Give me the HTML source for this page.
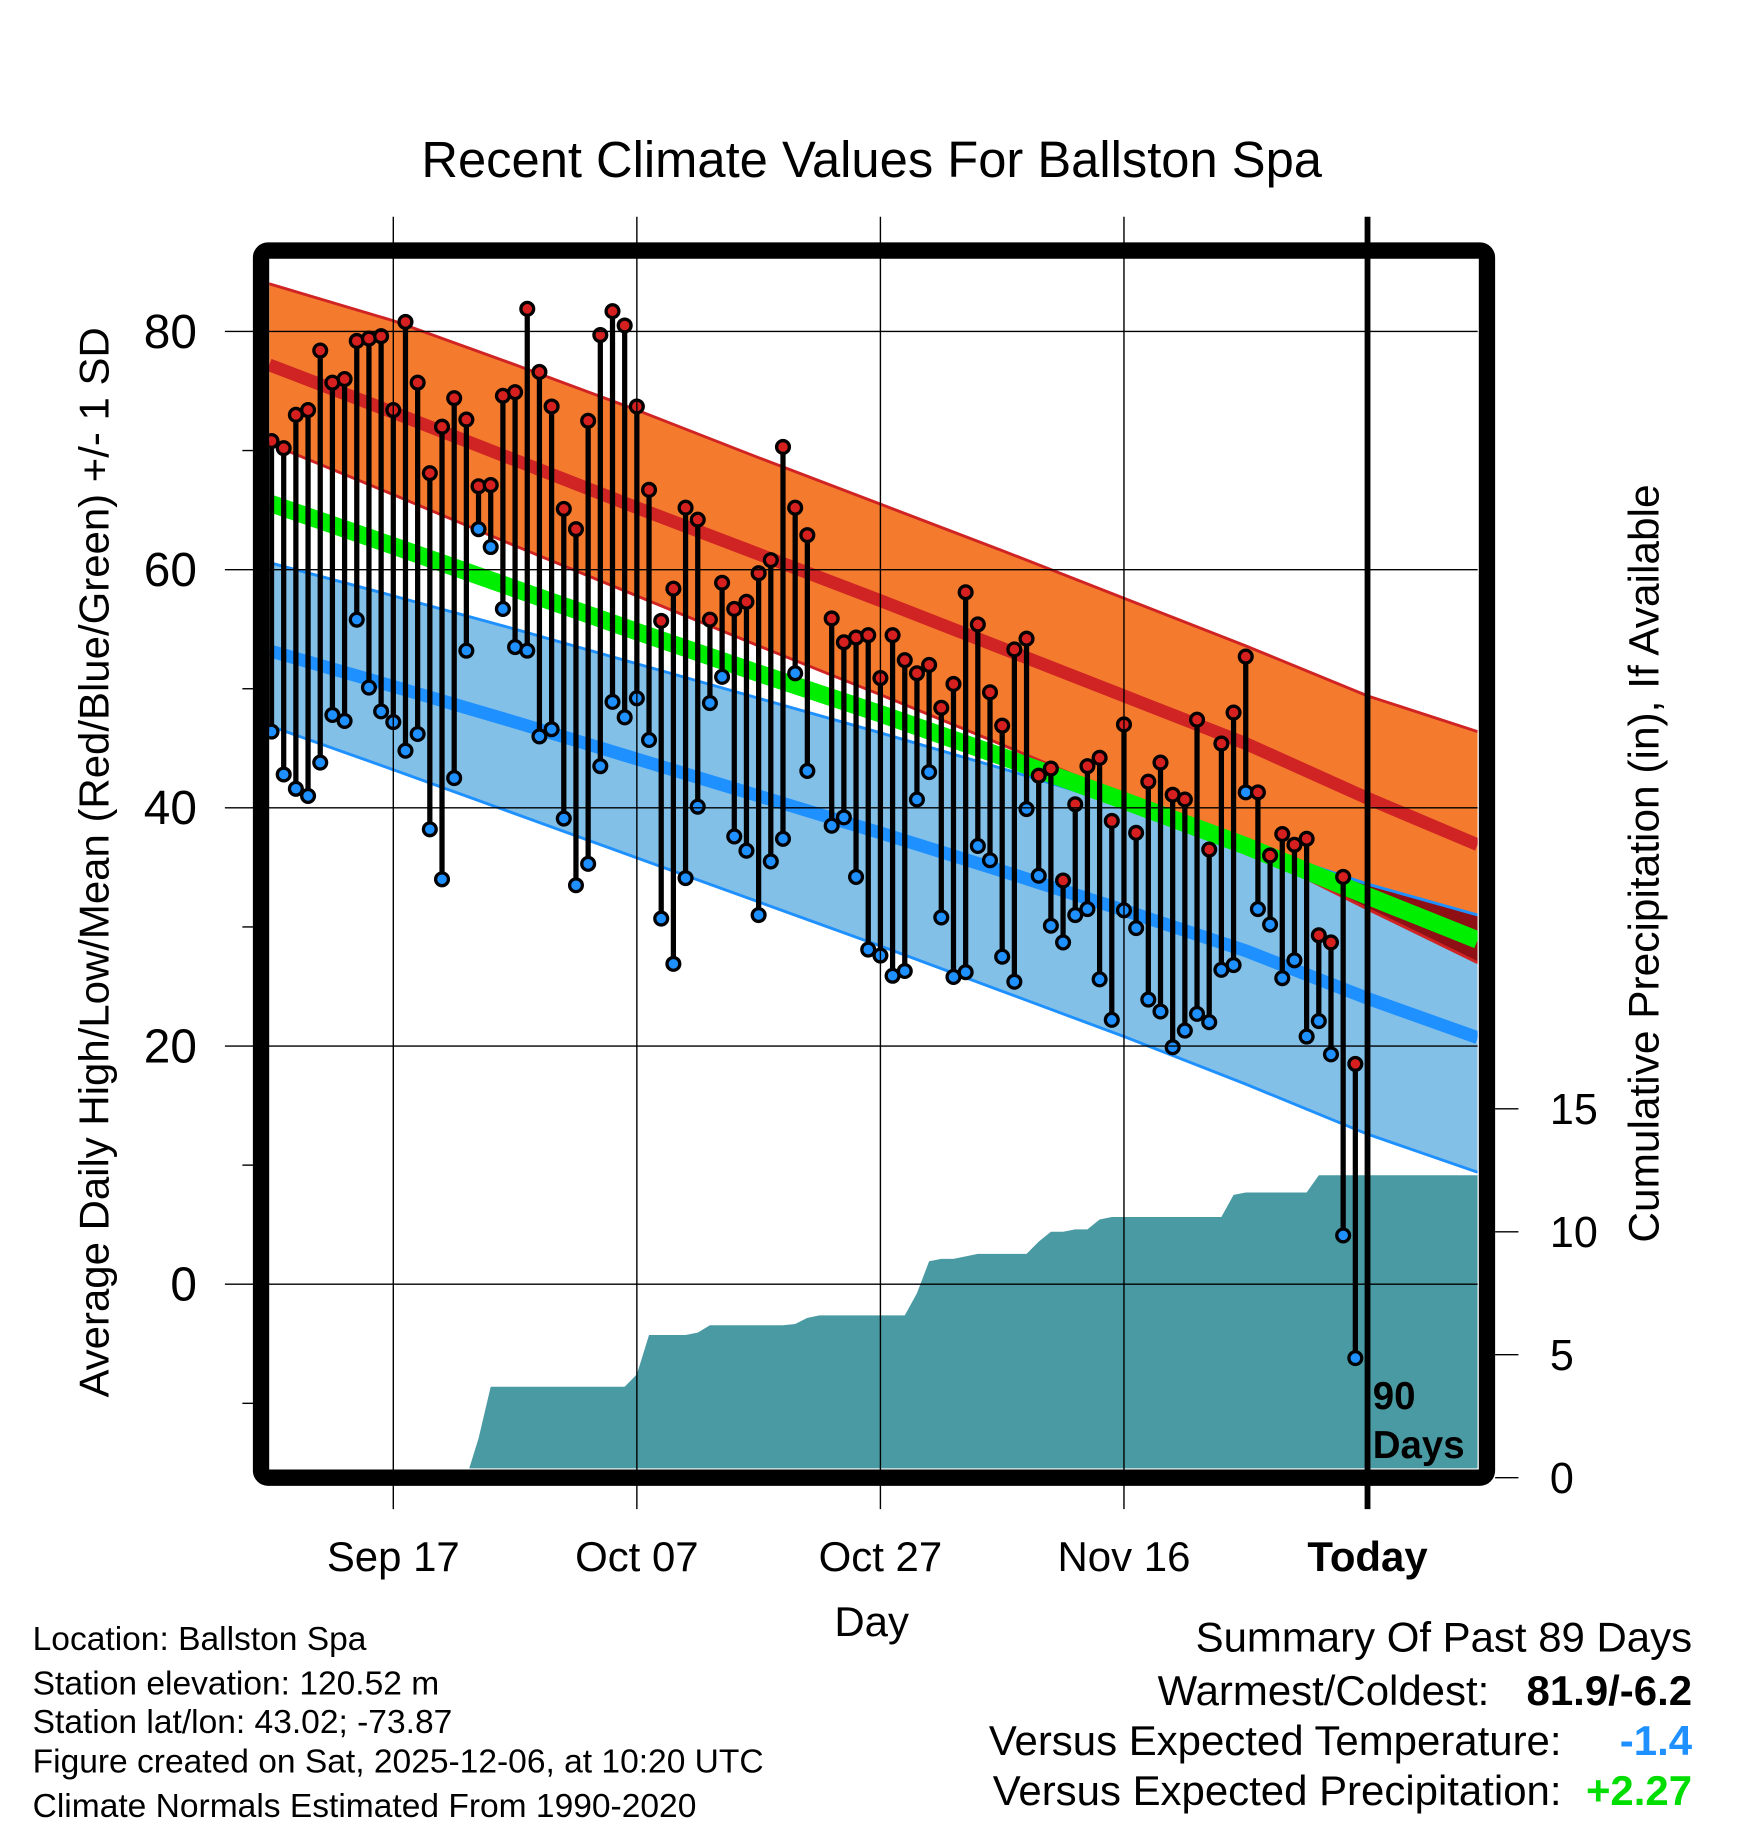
<!DOCTYPE html>
<html><head><meta charset="utf-8">
<style>
html,body{margin:0;padding:0;background:#fff;}
svg{display:block;}
text{font-family:"Liberation Sans",Arial,sans-serif;}
</style></head>
<body>
<svg id="chart" width="1748" height="1828" viewBox="0 0 1500 1568.6" xmlns="http://www.w3.org/2000/svg">
<defs>
<clipPath id="plotclip"><rect x="231" y="222" width="1037" height="1038"/></clipPath>
</defs>
<rect x="0" y="0" width="1500" height="1568.6" fill="#fff"/>
<text x="748" y="152" font-size="43.5" text-anchor="middle">Recent Climate Values For Ballston Spa</text>
<g id="plot" clip-path="url(#plotclip)"></g>
<g id="axes"></g>
<rect x="224" y="215" width="1052" height="1053" rx="6" fill="none" stroke="#000" stroke-width="14"/>
<text transform="translate(93,740) rotate(-90)" font-size="36" text-anchor="middle">Average Daily High/Low/Mean (Red/Blue/Green) +/- 1 SD</text>
<text transform="translate(1423,741) rotate(-90)" font-size="36.4" text-anchor="middle">Cumulative Precipitation (in), If Available</text>
<text x="748" y="1404" font-size="36" text-anchor="middle">Day</text>
<text x="1178" y="1209" font-size="33" font-weight="bold">90</text>
<text x="1178" y="1251" font-size="33" font-weight="bold">Days</text>
<g font-size="28.8">
<text x="28" y="1416">Location: Ballston Spa</text>
<text x="28" y="1454">Station elevation: 120.52 m</text>
<text x="28" y="1487">Station lat/lon: 43.02; -73.87</text>
<text x="28" y="1521">Figure created on Sat, 2025-12-06, at 10:20 UTC</text>
<text x="28" y="1559">Climate Normals Estimated From 1990-2020</text>
</g>
<g font-size="36">
<text x="1452" y="1417" text-anchor="end">Summary Of Past 89 Days</text>
<text x="1278" y="1463" text-anchor="end">Warmest/Coldest:</text>
<text x="1452" y="1463" text-anchor="end" font-weight="bold">81.9/-6.2</text>
<text x="1340" y="1506" text-anchor="end">Versus Expected Temperature:</text>
<text x="1452" y="1506" text-anchor="end" font-weight="bold" fill="#1e90ff">-1.4</text>
<text x="1340" y="1549" text-anchor="end">Versus Expected Precipitation:</text>
<text x="1452" y="1549" text-anchor="end" font-weight="bold" fill="#00dd00">+2.27</text>
</g>
</svg>
<script>
// ---- data ----
const highs = [70.8,70.2,73.0,73.4,78.4,75.7,76.0,79.2,79.4,79.6,73.4,80.8,75.7,68.1,72.0,74.4,72.6,67.0,67.1,74.6,74.9,81.9,76.6,73.7,65.1,63.4,72.5,79.7,81.7,80.5,73.7,66.7,55.7,58.4,65.2,64.2,55.8,58.9,56.7,57.3,59.7,60.8,70.3,65.2,62.9,null,55.9,53.9,54.3,54.5,50.9,54.5,52.4,51.3,52.0,48.4,50.4,58.1,55.4,49.7,46.9,53.3,54.2,42.7,43.3,33.9,40.3,43.5,44.2,38.9,47.0,37.9,42.2,43.8,41.1,40.7,47.4,36.5,45.4,48.0,52.7,41.3,36.0,37.8,36.9,37.4,29.3,28.7,34.2,18.5];
const lows = [46.4,42.8,41.6,41.0,43.8,47.8,47.3,55.8,50.1,48.1,47.2,44.8,46.2,38.2,34.0,42.5,53.2,63.4,61.9,56.7,53.5,53.2,46.0,46.6,39.1,33.5,35.3,43.5,48.9,47.6,49.2,45.7,30.7,26.9,34.1,40.1,48.8,51.0,37.6,36.4,31.0,35.5,37.4,51.3,43.1,null,38.5,39.2,34.2,28.1,27.6,25.9,26.3,40.7,43.0,30.8,25.8,26.2,36.8,35.6,27.5,25.4,39.9,34.3,30.1,28.7,31.0,31.5,25.6,22.2,31.4,29.9,23.9,22.9,19.9,21.3,22.7,22.0,26.4,26.8,41.3,31.5,30.2,25.7,27.2,20.8,22.1,19.3,4.1,-6.2];
const normDays = [0,10,20,30,40,50,60,70,80,90,99];
const highUpper = [84.0,80.9,77.2,73.4,69.4,65.5,61.6,57.6,53.6,49.4,46.4];
const highMean  = [77.2,73.2,69.2,65.2,61.3,57.4,53.4,49.4,45.4,40.8,36.9];
const highLower = [70.6,66.3,62.0,57.8,53.6,49.5,45.3,41.0,36.6,31.5,27.0];
const normMean  = [65.6,62.0,58.4,54.8,51.3,47.9,44.3,40.6,36.8,32.6,28.9];
const lowUpper  = [60.6,57.8,55.0,52.1,49.2,46.3,43.3,40.2,37.0,33.6,31.0];
const lowMean   = [53.2,50.2,47.2,44.1,41.0,37.9,34.7,31.4,28.0,24.0,20.7];
const lowLower  = [46.9,43.2,39.5,35.8,32.1,28.4,24.6,20.8,16.8,12.6,9.4];
const precipDays = [17,18,30,31,35,36,43,44,45,53,54,55,57,58,63,64,66,68,69,79,80,86];
const precipAmts = [1.6,2.1,0.5,1.6,0.1,0.3,0.05,0.25,0.1,0.9,1.3,0.1,0.1,0.1,0.5,0.4,0.1,0.4,0.1,0.9,0.1,0.7];
const yTicks = [0,20,40,60,80];
const yMinor = [-10,10,30,50,70];
const pTicks = [0,5,10,15];
const xTickDays = [10,30,50,70,90];
const xTickLabels = ["Sep 17","Oct 07","Oct 27","Nov 16","Today"];

// ---- scales ----
const NS='http://www.w3.org/2000/svg';
function X(d){return 233+10.45*d;}
function Y(v){return 1102-10.22*v;}
function P(v){return 1268-21.1*v;}
const plot=document.getElementById('plot');
const axes=document.getElementById('axes');
function mk(tag,attrs,parent){const e=document.createElementNS(NS,tag);for(const k in attrs)e.setAttribute(k,attrs[k]);parent.appendChild(e);return e;}
function line(arr){return normDays.map((d,i)=>(i==0?231:(d==99?1268:X(d)))+','+Y(arr[i]));}
function band(up,lo){const a=line(up);const b=line(lo).reverse();return a.concat(b).join(' ');}

// precipitation area
const cum=[];let c=0;
for(let d=0;d<=99;d++){const k=precipDays.indexOf(d);if(k>=0)c+=precipAmts[k];cum.push(c);}
let pts=['231,'+P(0)];
for(let d=0;d<=99;d++)pts.push(X(d)+','+P(cum[d]));
pts.push('1268,'+P(cum[99]));pts.push('1268,1262');pts.push('231,1262');
let e=mk('polygon',{points:pts.join(' '),fill:'#4a9aa3'},plot);



// bands
e=mk('polygon',{points:band(highUpper,highLower),fill:'#f47a2e'},plot);


e=mk('polygon',{points:band(lowUpper,lowLower),fill:'#82c0e8'},plot);


const cp=mk('clipPath',{id:'lowclip'},document.querySelector('defs'));
mk('polygon',{points:band(lowUpper,lowLower)},cp);
e=mk('polygon',{points:band(highUpper,highLower),fill:'#8e0f14','clip-path':'url(#lowclip)'},plot);


[[highUpper,'#d02424'],[highLower,'#d02424'],[lowUpper,'#1e90ff'],[lowLower,'#1e90ff']].forEach(([arr,col])=>{
  const l=mk('polyline',{points:line(arr).join(' '),fill:'none',stroke:col,'stroke-width':2.5},plot);
  
  
});
e=mk('polyline',{points:line(highMean).join(' '),fill:'none',stroke:'#d02424','stroke-width':11},plot);


e=mk('polyline',{points:line(lowMean).join(' '),fill:'none',stroke:'#1e90ff','stroke-width':11},plot);


e=mk('polyline',{points:line(normMean).join(' '),fill:'none',stroke:'#00ee00','stroke-width':15},plot);



// gridlines
yTicks.forEach(v=>{
  const g=mk('line',{x1:193,x2:1268,y1:Y(v),y2:Y(v),stroke:'#000','stroke-width':1.2},axes);
  
  
  const t=mk('text',{x:169,y:Y(v)+14,'font-size':41,'text-anchor':'end'},axes);t.textContent=v;
  
  
});
yMinor.forEach(v=>{
  const g=mk('line',{x1:208,x2:220,y1:Y(v),y2:Y(v),stroke:'#000','stroke-width':1.2},axes);
  
  
});
xTickDays.forEach((d,i)=>{
  const today=i==xTickDays.length-1;
  const g=mk('line',{x1:X(d),x2:X(d),y1:186,y2:1295,stroke:'#000','stroke-width':today?5:1.2},axes);
  
  
  const t=mk('text',{x:X(d),y:1348,'font-size':36,'text-anchor':'middle','font-weight':today?'bold':'normal'},axes);
  t.textContent=xTickLabels[i];
  
  
});
pTicks.forEach(v=>{
  const g=mk('line',{x1:1283,x2:1303,y1:P(v),y2:P(v),stroke:'#000','stroke-width':1.2},axes);
  
  
  const t=mk('text',{x:1330,y:P(v)+13,'font-size':37},axes);t.textContent=v;
  
  
});

// daily stems & dots
highs.forEach((h,i)=>{
  const l=lows[i];if(h==null||l==null)return;
  const s=mk('line',{x1:X(i),x2:X(i),y1:Y(h),y2:Y(l),stroke:'#000','stroke-width':4.5},plot);
  
  
});
highs.forEach((h,i)=>{
  const l=lows[i];if(h==null||l==null)return;
  const a=mk('circle',{cx:X(i),cy:Y(l),r:5.5,fill:'#1e90ff',stroke:'#000','stroke-width':2.8},plot);
  
  
  const b=mk('circle',{cx:X(i),cy:Y(h),r:5.5,fill:'#d62020',stroke:'#000','stroke-width':2.8},plot);
  
  
});
</script>
</body></html>
